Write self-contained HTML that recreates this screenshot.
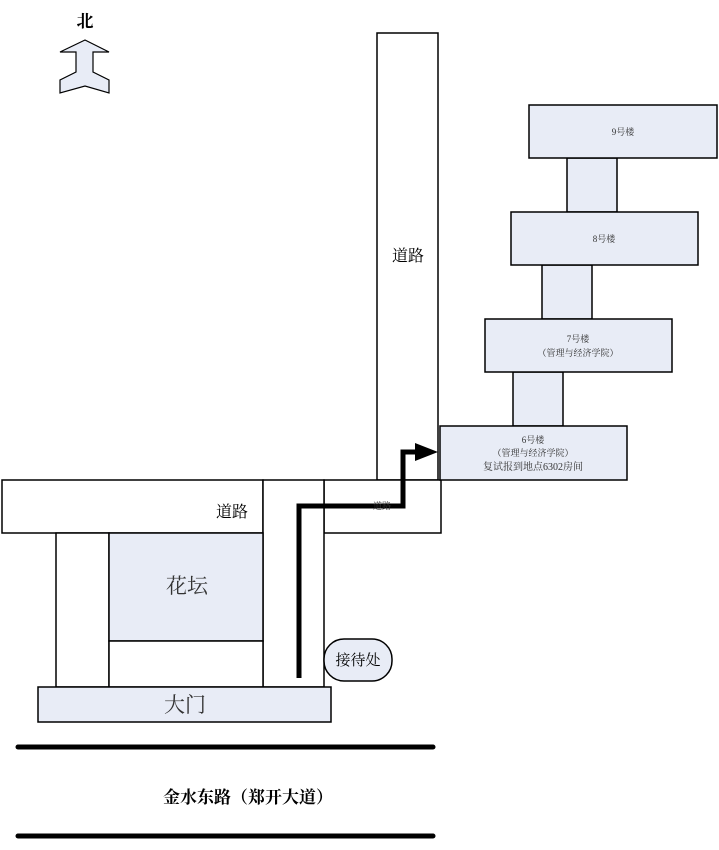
<!DOCTYPE html>
<html><head><meta charset="utf-8"><style>
html,body{margin:0;padding:0;background:#fff;}
svg{display:block}
text{font-family:"Liberation Serif","Noto Serif CJK SC","Noto Sans CJK SC",serif;fill:#333}
</style></head><body>
<svg width="719" height="850" viewBox="0 0 719 850" xmlns="http://www.w3.org/2000/svg">
<g stroke="#000" stroke-width="1.5">
<polygon points="85,40 109,52 93,52 93,72 109,80 109,93 85,86 60,93 60,80 76,72 76,52 60,52" fill="#e8ecf6" stroke-width="1.2"/>
<rect x="377" y="33" width="61" height="447" fill="#fff"/>
<rect x="2" y="480" width="261" height="53" fill="#fff"/>
<rect x="324" y="480" width="117" height="53" fill="#fff"/>
<rect x="263" y="480" width="61" height="207" fill="#fff"/>
<rect x="56" y="533" width="53" height="154" fill="#fff"/>
<rect x="109" y="533" width="154" height="108" fill="#e8ecf6"/>
<rect x="109" y="641" width="154" height="46" fill="#fff"/>
<rect x="38" y="687" width="293" height="35" fill="#e8ecf6"/>
<rect x="324" y="639" width="68" height="42" rx="20" fill="#e8ecf6"/>
<rect x="567" y="158" width="50" height="54" fill="#e8ecf6"/>
<rect x="542" y="265" width="50" height="54" fill="#e8ecf6"/>
<rect x="513" y="372" width="50" height="54" fill="#e8ecf6"/>
<rect x="529" y="105" width="188" height="53" fill="#e8ecf6"/>
<rect x="511" y="212" width="187" height="53" fill="#e8ecf6"/>
<rect x="485" y="319" width="187" height="53" fill="#e8ecf6"/>
<rect x="440" y="426" width="187" height="54" fill="#e8ecf6"/>
</g>
<polyline points="299,678 299,506 403,506 403,452 418,452" fill="none" stroke="#000" stroke-width="5" stroke-linejoin="miter"/>
<polygon points="415,443 438,452 415,461" fill="#000"/>
<line x1="18" y1="747" x2="433" y2="747" stroke="#000" stroke-width="5" stroke-linecap="round"/>
<line x1="18" y1="836" x2="433" y2="836" stroke="#000" stroke-width="5" stroke-linecap="round"/>
<text x="85" y="27" font-size="17" font-weight="bold" text-anchor="middle" style="fill:#000">北</text>
<text x="408" y="261" font-size="16" text-anchor="middle" style="fill:#000">道路</text>
<text x="232" y="517" font-size="16" text-anchor="middle" style="fill:#000">道路</text>
<text x="382" y="509" font-size="9" text-anchor="middle" fill="#666">道路</text>
<text x="187" y="593" font-size="21" text-anchor="middle">花坛</text>
<text x="185" y="712" font-size="21" text-anchor="middle">大门</text>
<text x="358" y="665" font-size="15" text-anchor="middle" style="fill:#000">接待处</text>
<text x="623" y="135" font-size="9" text-anchor="middle">9号楼</text>
<text x="604" y="242" font-size="9" text-anchor="middle">8号楼</text>
<text x="578" y="342" font-size="9" text-anchor="middle">7号楼</text>
<text x="578" y="356" font-size="9" text-anchor="middle">（管理与经济学院）</text>
<text x="533" y="443" font-size="9" text-anchor="middle">6号楼</text>
<text x="533" y="456" font-size="9" text-anchor="middle">（管理与经济学院）</text>
<text x="533" y="470" font-size="10" text-anchor="middle">复试报到地点6302房间</text>
<text x="248" y="803" font-size="17" font-weight="bold" text-anchor="middle" style="fill:#000">金水东路（郑开大道）</text>
</svg>
</body></html>
